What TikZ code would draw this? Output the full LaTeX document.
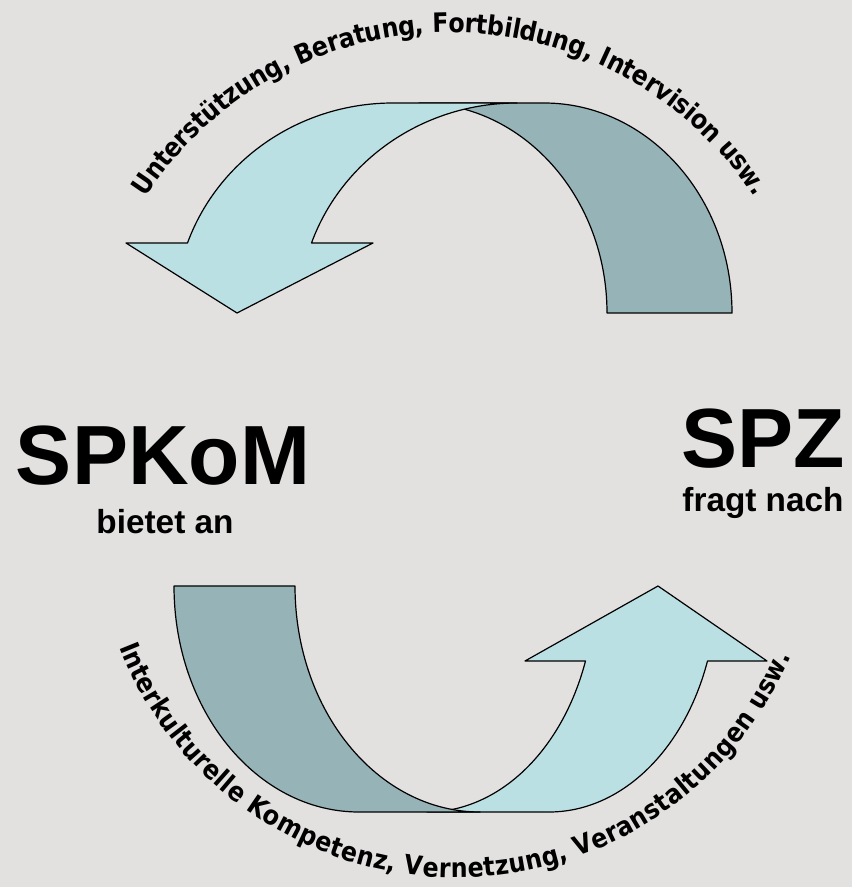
\documentclass[tikz,border=0pt]{standalone}
\usepackage{fontspec}
\setmainfont{Liberation Sans}
\newfontfamily\arcfont[FakeStretch=0.89]{DejaVu Sans}
\usetikzlibrary{decorations.text}

\definecolor{lightband}{RGB}{186,224,228}
\definecolor{darkband}{RGB}{150,179,183}
\definecolor{bggray}{RGB}{226,225,223}

\tikzset{
  band/.style={draw=black, line width=0.9pt, line join=round},
  biglabel/.style={font=\bfseries\fontsize{63}{63}\selectfont, inner sep=0pt},
  sublabel/.style={font=\bfseries\fontsize{25}{25}\selectfont, inner sep=0pt},
  arctext/.style={decorate, decoration={text along path, text align=center, raise=-7.2pt, text={|\arcfont\bfseries\fontsize{20}{22}\selectfont|#1}}},
}

\begin{document}
\begin{tikzpicture}[x=0.75pt,y=0.75pt,yscale=-1,xscale=1]
%Background
\fill [bggray] (0,0) rectangle (852,887);
\useasboundingbox (0,0) rectangle (852,887);

%Shape: top arrow, back band
\draw [band, fill=darkband] (419,103) -- (544,103) .. controls (647.8,103) and (732,197) .. (732,313) -- (607,313) .. controls (607,197) and (522.8,103) .. (419,103) -- cycle ;
%Shape: top arrow, front part with head
\draw [band, fill=lightband] (393,103) .. controls (300.6,103) and (218.3,159.1) .. (187.5,243) -- (126,243) -- (237,313) -- (373,243) -- (311.5,243) .. controls (342.3,159.1) and (424.6,103) .. (517,103) -- cycle ;

%Shape: bottom arrow, part with head
\draw [band, fill=lightband] (427,812) -- (549,812) .. controls (620.3,812) and (683.8,751.5) .. (707.5,661) -- (767,661) -- (658,586) -- (525,661) -- (585.5,661) .. controls (561.8,751.5) and (498.3,812) .. (427,812) -- cycle ;
%Shape: bottom arrow, front band
\draw [band, fill=darkband] (174,586) -- (295,586) .. controls (295,710.8) and (377.8,812) .. (480,812) -- (359,812) .. controls (256.8,812) and (174,710.8) .. (174,586) -- cycle ;

% Text Node
\node (spkom) [biglabel, anchor=base] at (163,484) {SPKoM};
% Text Node
\node (bietet) [sublabel, anchor=base] at (165,533) {bietet an};
% Text Node
\node (spz) [biglabel, anchor=base] at (763,467) {SPZ};
% Text Node
\node (fragt) [sublabel, anchor=base] at (763,511) {fragt nach};

% Curved texts
\coordinate (topc) at (450,396);
\coordinate (botc) at (457,515);
\path [arctext={Unterstützung, Beratung, Fortbildung, Intervision usw.}] (topc) ++(-155:373) arc [start angle=-155, end angle=-25, radius=373];
\path [arctext={Interkulturelle Kompetenz, Vernetzung, Veranstaltungen usw.}] (botc) ++(-194.25:353) arc [start angle=-194.25, end angle=-344.25, radius=353];

\end{tikzpicture}
\end{document}
